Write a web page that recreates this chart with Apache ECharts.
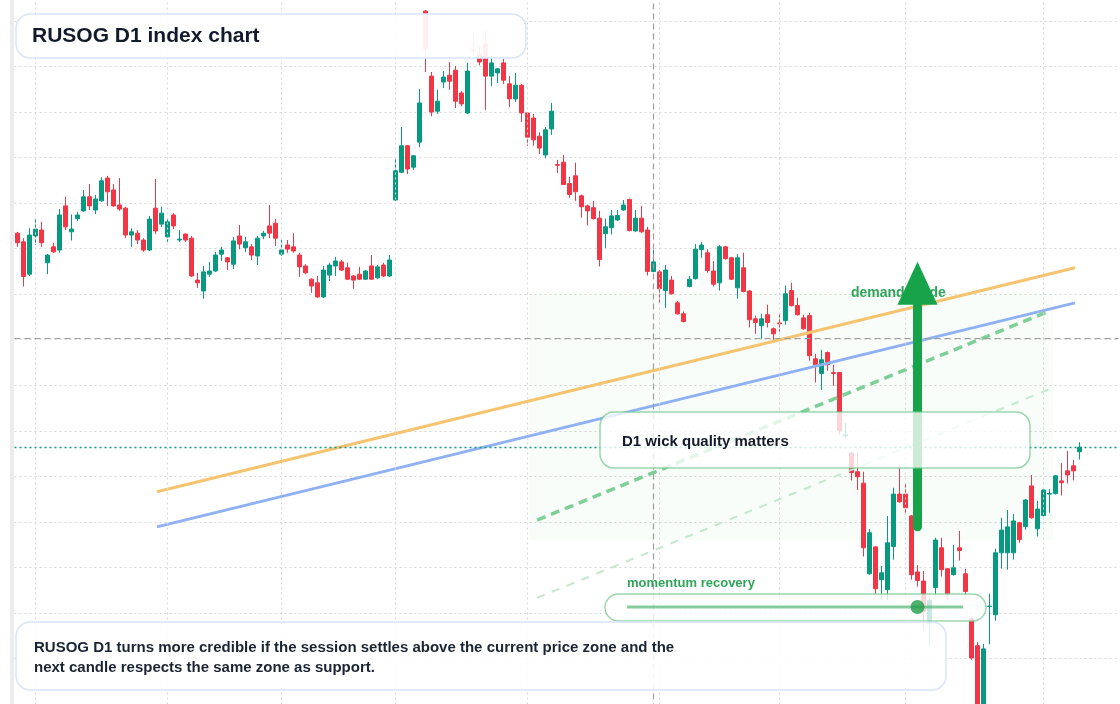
<!DOCTYPE html>
<html>
<head>
<meta charset="utf-8">
<title>RUSOG D1 index chart</title>
<script src="https://cdn.jsdelivr.net/npm/echarts@6.0.0/dist/echarts.min.js"></script>
<style>
  html, body { margin: 0; padding: 0; background: #ffffff; }
  #chart { width: 1120px; height: 704px; }
</style>
</head>
<body>
<div id="chart"></div>
<script>
// daily candles, [open, close, low, high]
var candleRows = [
  [123.4, 121.3, 120.4, 123.7], [121.5, 113.9, 111.7, 122.3], [114.4, 123.0, 114.0, 124.5], [122.8, 124.3, 120.8, 126.5],
  [124.1, 121.3, 120.4, 125.9], [116.9, 118.6, 114.4, 118.8], [120.4, 119.3, 119.1, 121.3], [119.7, 127.4, 119.1, 128.7],
  [129.4, 124.8, 124.1, 131.4], [123.7, 124.3, 121.8, 127.5], [126.6, 127.4, 126.1, 128.1], [128.3, 131.4, 128.1, 132.9],
  [131.4, 129.4, 128.5, 134.2], [128.5, 130.9, 127.6, 131.8], [130.5, 134.9, 130.3, 135.7], [135.5, 132.5, 129.4, 136.0],
  [132.9, 129.4, 129.2, 134.2], [129.6, 128.7, 128.3, 135.5], [128.9, 123.0, 122.3, 129.2], [123.0, 123.7, 120.4, 124.5],
  [123.4, 121.9, 121.0, 124.1], [121.9, 119.7, 119.3, 122.3], [119.7, 126.5, 119.5, 127.2], [128.9, 123.9, 123.2, 135.3],
  [125.4, 127.8, 124.8, 129.2], [122.6, 125.9, 121.5, 126.5], [127.4, 125.0, 124.3, 127.8], [121.9, 122.1, 121.5, 124.1],
  [123.2, 121.9, 121.5, 123.4], [122.3, 114.0, 113.8, 122.8], [113.1, 112.5, 111.4, 114.7], [110.7, 114.9, 109.0, 116.2],
  [114.4, 115.1, 113.8, 117.1], [115.1, 118.6, 114.9, 119.3], [118.8, 119.7, 117.3, 120.4], [118.0, 117.1, 115.3, 118.2],
  [116.6, 121.7, 115.5, 122.6], [122.8, 121.0, 119.9, 125.2], [120.2, 121.5, 119.3, 122.6], [120.4, 118.6, 117.5, 121.0],
  [118.4, 122.3, 116.4, 122.8], [122.8, 123.4, 122.1, 123.9], [125.0, 123.4, 122.3, 129.6], [125.6, 122.3, 120.6, 126.5],
  [118.8, 119.7, 118.4, 121.9], [120.8, 119.9, 119.1, 121.9], [120.4, 119.5, 119.1, 123.4], [118.6, 116.0, 113.8, 119.1],
  [116.2, 114.7, 114.4, 116.6], [113.3, 111.8, 110.3, 113.5], [112.5, 109.4, 109.2, 114.0], [109.4, 115.3, 109.2, 116.2],
  [114.2, 116.4, 112.9, 116.9], [116.2, 117.3, 114.0, 118.2], [117.1, 115.3, 115.1, 117.5], [115.8, 113.3, 113.1, 116.9],
  [114.0, 113.1, 111.2, 114.2], [114.4, 113.3, 113.1, 116.0], [113.3, 115.1, 113.1, 115.3], [116.2, 113.3, 113.1, 118.6],
  [113.6, 116.0, 113.3, 116.4], [116.4, 114.0, 113.8, 116.9], [114.0, 117.5, 113.8, 118.6], [130.7, 137.1, 130.5, 139.9],
  [136.8, 142.6, 136.6, 146.7], [142.6, 137.5, 136.4, 142.8], [137.9, 140.4, 137.3, 140.6], [143.4, 152.0, 142.3, 155.1],
  [172.2, 163.9, 158.8, 172.4], [157.9, 150.0, 149.1, 158.8], [150.2, 152.4, 149.6, 154.9], [156.6, 157.7, 155.3, 159.0],
  [158.1, 156.8, 154.9, 161.0], [159.2, 152.4, 150.9, 160.1], [154.2, 151.8, 151.3, 154.6], [149.8, 159.0, 149.6, 160.8],
  [163.7, 163.5, 162.5, 167.1], [162.8, 161.0, 160.3, 164.5], [165.0, 157.9, 150.5, 168.0], [157.9, 160.8, 155.7, 162.5],
  [158.6, 159.5, 156.4, 159.7], [160.8, 157.0, 156.2, 161.7], [156.2, 152.9, 151.1, 157.9], [152.9, 155.9, 152.2, 158.6],
  [155.9, 149.8, 147.8, 156.2], [149.8, 144.5, 142.6, 150.0], [148.7, 143.9, 142.6, 149.6], [144.7, 142.1, 140.8, 145.6],
  [140.6, 146.1, 139.9, 146.7], [146.3, 150.2, 145.0, 152.0], [138.5, 138.3, 136.6, 139.5], [139.0, 134.1, 134.0, 140.6],
  [134.3, 131.9, 131.2, 135.8], [136.0, 132.5, 130.5, 138.9], [131.6, 129.2, 126.8, 131.9], [129.4, 128.3, 125.1, 129.7],
  [129.0, 126.6, 126.4, 130.5], [126.7, 117.6, 116.1, 128.3], [123.3, 124.8, 120.2, 126.6], [124.6, 127.2, 123.1, 128.5],
  [126.3, 127.3, 126.1, 128.5], [128.5, 129.6, 128.3, 130.7], [130.8, 124.0, 123.8, 131.0], [123.9, 126.7, 123.7, 128.5],
  [126.7, 123.7, 123.5, 129.4], [124.1, 115.0, 114.1, 124.8], [115.0, 117.1, 114.8, 119.7], [114.9, 111.2, 108.1, 115.3],
  [110.8, 115.3, 107.0, 116.4], [113.1, 110.1, 109.9, 114.0], [108.1, 105.7, 105.5, 108.5], [105.7, 104.0, 103.8, 106.2],
  [111.7, 113.3, 111.5, 114.0], [113.4, 119.9, 113.2, 121.0], [119.8, 120.8, 118.0, 121.5], [119.1, 115.2, 114.7, 119.9],
  [115.1, 112.2, 111.7, 117.3], [112.5, 120.4, 110.8, 120.8], [120.4, 117.8, 117.6, 120.6], [118.0, 113.3, 113.1, 118.2],
  [111.4, 118.0, 109.0, 118.8], [115.8, 110.6, 110.4, 119.1], [110.7, 104.4, 102.7, 110.9], [104.6, 103.8, 101.3, 105.3],
  [103.1, 104.6, 100.2, 105.7], [105.5, 103.8, 102.7, 107.7], [102.4, 101.3, 99.6, 102.7], [103.7, 103.5, 101.8, 105.7],
  [104.2, 110.1, 103.3, 111.9], [110.8, 107.5, 107.3, 112.5], [107.5, 105.5, 105.3, 109.2], [104.8, 102.4, 102.2, 105.5],
  [105.3, 96.5, 95.4, 105.9], [95.8, 94.5, 90.6, 96.9], [92.6, 95.6, 89.0, 97.8], [97.2, 94.5, 93.2, 97.4],
  [92.8, 92.6, 89.9, 94.5], [92.8, 80.0, 79.2, 92.9], [78.9, 79.1, 78.4, 81.7], [75.1, 70.8, 69.1, 75.4],
  [71.0, 69.9, 67.0, 75.1], [68.5, 54.3, 52.4, 71.0], [48.6, 57.6, 48.4, 58.4], [54.5, 45.3, 44.2, 54.7],
  [47.3, 48.8, 42.9, 50.3], [45.1, 55.4, 42.9, 61.3], [54.6, 66.1, 51.7, 67.5], [66.1, 64.4, 64.2, 72.5],
  [66.1, 63.1, 61.7, 68.3], [61.3, 48.4, 47.3, 61.5], [49.0, 47.1, 45.8, 50.5], [47.0, 40.3, 36.3, 49.2],
  [37.7, 42.7, 32.9, 43.4], [45.6, 56.0, 43.8, 56.5], [54.3, 49.5, 48.0, 56.5], [49.7, 44.2, 42.9, 49.9],
  [48.4, 49.9, 48.2, 54.9], [54.3, 53.7, 51.5, 58.0], [48.6, 44.7, 43.8, 49.7], [38.7, 30.1, 29.7, 38.9],
  [32.8, 16.9, 15.2, 33.6], [17.4, 32.1, 15.6, 33.2], [41.4, 41.5, 33.1, 44.2], [39.6, 53.2, 38.3, 54.1],
  [53.2, 58.2, 49.7, 60.9], [53.2, 58.9, 49.5, 62.6], [53.2, 60.2, 51.7, 61.7], [59.8, 56.1, 55.4, 60.0],
  [59.0, 64.8, 58.3, 65.0], [67.9, 60.9, 60.7, 70.3], [58.5, 62.8, 56.8, 64.6], [61.4, 67.0, 61.2, 67.2],
  [66.1, 66.2, 62.0, 67.2], [66.2, 70.1, 66.0, 70.3], [69.0, 68.6, 65.8, 72.9], [71.2, 70.3, 68.4, 75.6],
  [72.3, 71.2, 69.1, 73.6], [75.4, 76.4, 73.7, 77.5]
];

// 184 daily slots, the last few are empty space on the right
var days = [];
for (var i = 0; i < 184; i++) {
  days.push('D' + (i + 1));
}

// slots where a new month starts (dotted verticals)
var monthStarts = [3, 25, 44, 63, 85, 107, 127, 148, 171];

// cursor and last price
var cursorSlot = 106;
var cursorPrice = 100.3;
var lastPrice = 76.4;

// drawn lines, [slot, price]
var orangeLine = [[23.25, 66.6], [176.25, 115.8]];
var blueLine = [[23.25, 58.9], [176.25, 108.1]];
var greenDash = [[86.6, 60.4], [171.6, 106.1]];
var paleDash = [[86.6, 43.3], [172.1, 89.2]];

// demand zone [slot, price] corners
var zoneFrom = [85.4, 110.3];
var zoneTo = [172.6, 56.0];

// arrow from / to
var arrowFrom = [150, 58.9];
var arrowTo = [150, 112.4];

// momentum slider
var sliderLine = [[101.6, 41.3], [157.6, 41.3]];
var sliderDot = [[150, 41.3]];

var fontFamily = '"Liberation Sans", Arial, Helvetica, sans-serif';
var gridDots = { color: '#d7d7d7', type: [2, 3], width: 1 };

var guideLines = [];
for (var m = 0; m < monthStarts.length; m++) {
  guideLines.push({ xAxis: monthStarts[m], lineStyle: gridDots });
}
guideLines.push({ xAxis: cursorSlot, lineStyle: { color: '#9c9c9c', type: [6, 4], width: 1.2 } });
guideLines.push({ yAxis: cursorPrice, lineStyle: { color: '#9c9c9c', type: [6, 4], width: 1.2 } });
guideLines.push({ yAxis: lastPrice, lineStyle: { color: '#0f9b7e', type: [2, 3], width: 1.3 } });

var chart = echarts.init(document.getElementById('chart'));

var option = {
  animation: false,
  backgroundColor: '#ffffff',
  grid: { left: 14.5, right: 1.5, top: -24.5, bottom: -45.5, outerBoundsMode: 'none', containLabel: false },
  xAxis: [
    {
      type: 'category',
      data: days,
      boundaryGap: true,
      axisLine: { show: false },
      axisTick: { show: false },
      axisLabel: { show: false },
      splitLine: { show: false }
    },
    { type: 'value', min: -0.5, max: 183.5, show: false }
  ],
  yAxis: {
    type: 'value',
    min: 10,
    max: 180,
    interval: 10,
    axisLine: { show: false },
    axisTick: { show: false },
    axisLabel: { show: false },
    splitLine: { show: true, lineStyle: gridDots }
  },
  series: [
    {
      name: 'guides',
      type: 'line',
      xAxisIndex: 1,
      data: [],
      z: 1,
      silent: true,
      markLine: {
        silent: true,
        symbol: ['none', 'none'],
        label: { show: false },
        data: guideLines
      },
      markArea: {
        silent: true,
        itemStyle: { color: 'rgba(34,197,94,0.032)' },
        data: [[{ coord: zoneFrom }, { coord: zoneTo }]]
      }
    },
    {
      name: 'RUSOG',
      type: 'candlestick',
      data: candleRows,
      barWidth: 4,
      z: 2,
      itemStyle: {
        color: '#089981',
        color0: '#f23645',
        borderColor: '#089981',
        borderColor0: '#f23645',
        borderWidth: 1
      }
    },
    {
      type: 'line', xAxisIndex: 1, data: orangeLine, symbol: 'none', silent: true, z: 3,
      lineStyle: { color: '#f6c46f', width: 3 }
    },
    {
      type: 'line', xAxisIndex: 1, data: blueLine, symbol: 'none', silent: true, z: 3,
      lineStyle: { color: '#8fb1f3', width: 3 }
    },
    {
      type: 'line', xAxisIndex: 1, data: greenDash, symbol: 'none', silent: true, z: 3,
      lineStyle: { color: '#7dcf96', width: 3.5, type: [9, 6] }
    },
    {
      type: 'line', xAxisIndex: 1, data: paleDash, symbol: 'none', silent: true, z: 3,
      lineStyle: { color: '#c3e8ce', width: 2, type: [8, 8] }
    },
    {
      type: 'line', xAxisIndex: 1, silent: true, z: 5,
      data: [
        { value: arrowFrom, symbol: 'none' },
        { value: arrowTo, symbol: 'triangle', symbolSize: [40, 43] }
      ],
      showSymbol: true,
      lineStyle: { color: '#17a34a', width: 9, cap: 'round' },
      itemStyle: { color: '#17a34a' }
    },
    {
      type: 'line', xAxisIndex: 1, data: sliderLine, symbol: 'none', silent: true, z: 12,
      lineStyle: { color: 'rgba(52,170,92,0.6)', width: 3 }
    },
    {
      type: 'scatter', xAxisIndex: 1, data: sliderDot, symbolSize: 14, silent: true, z: 13,
      itemStyle: { color: '#1f9e4b' }
    }
  ],
  graphic: [
    { type: 'rect', z: 0, silent: true, shape: { x: 10, y: 0, width: 4, height: 704 }, style: { fill: '#ececec' } },
    {
      type: 'text', z: 4, silent: true, x: 851, y: 293,
      style: { text: 'demand guide', font: 'bold 14px ' + fontFamily, fill: '#2fa45a', verticalAlign: 'middle' }
    },
    {
      type: 'rect', z: 10, silent: true,
      shape: { x: 16, y: 14, width: 510, height: 44, r: 14 },
      style: { fill: 'rgba(255,255,255,0.92)', stroke: '#d8e5f9', lineWidth: 1.5 }
    },
    {
      type: 'text', z: 11, silent: true, x: 32, y: 36.5,
      style: { text: 'RUSOG D1 index chart', font: 'bold 21px ' + fontFamily, fill: '#131b2b', verticalAlign: 'middle' }
    },
    {
      type: 'rect', z: 10, silent: true,
      shape: { x: 600, y: 412, width: 430, height: 56, r: 14 },
      style: { fill: 'rgba(255,255,255,0.78)', stroke: 'rgba(110,196,138,0.7)', lineWidth: 1.5 }
    },
    {
      type: 'text', z: 11, silent: true, x: 622, y: 441.5,
      style: { text: 'D1 wick quality matters', font: 'bold 15px ' + fontFamily, fill: '#131b2b', verticalAlign: 'middle' }
    },
    {
      type: 'text', z: 12, silent: true, x: 627, y: 583,
      style: { text: 'momentum recovery', font: 'bold 13px ' + fontFamily, fill: '#2fa45a', verticalAlign: 'middle' }
    },
    {
      type: 'rect', z: 10, silent: true,
      shape: { x: 605, y: 594, width: 381, height: 27, r: 13.5 },
      style: { fill: 'rgba(255,255,255,0.78)', stroke: 'rgba(110,196,138,0.7)', lineWidth: 1.5 }
    },
    {
      type: 'rect', z: 10, silent: true,
      shape: { x: 16, y: 622, width: 930, height: 68, r: 14 },
      style: { fill: 'rgba(255,255,255,0.88)', stroke: '#d8e5f9', lineWidth: 1.5 }
    },
    {
      type: 'text', z: 11, silent: true, x: 34, y: 648,
      style: {
        text: 'RUSOG D1 turns more credible if the session settles above the current price zone and the',
        font: 'bold 15px ' + fontFamily, fill: '#1b2433', verticalAlign: 'middle'
      }
    },
    {
      type: 'text', z: 11, silent: true, x: 34, y: 668,
      style: {
        text: 'next candle respects the same zone as support.',
        font: 'bold 15px ' + fontFamily, fill: '#1b2433', verticalAlign: 'middle'
      }
    }
  ]
};

chart.setOption(option);
</script>
</body>
</html>
